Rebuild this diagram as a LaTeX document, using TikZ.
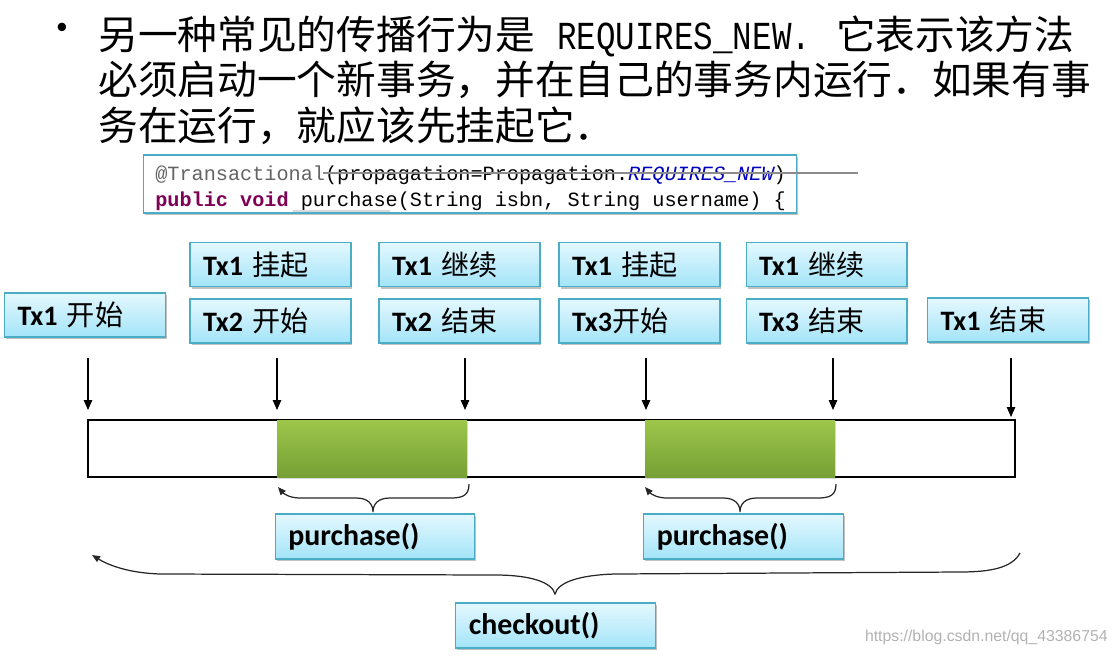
\documentclass[tikz,border=0pt]{standalone}
\usepackage{fontspec}
\setmainfont{Carlito}
\newfontfamily\cjk{Noto Sans CJK SC}
\newfontfamily\codefont{Liberation Mono}
\newfontfamily\narrowmono[FakeStretch=0.82]{Liberation Mono}
\newfontfamily\markfont{Liberation Sans}
\usepackage{tikz}
\usetikzlibrary{arrows.meta, shadows, positioning}

\definecolor{boxedge}{HTML}{4BACC6}
\definecolor{boxtop}{HTML}{E4F8FE}
\definecolor{boxbot}{HTML}{A3E4F8}
\definecolor{runtop}{HTML}{9DC64B}
\definecolor{runbot}{HTML}{76A035}
\definecolor{codegray}{HTML}{646464}
\definecolor{codeblue}{HTML}{0000C0}
\definecolor{codepurple}{HTML}{7F0055}

\newcommand{\zh}[1]{{\cjk #1}}

\begin{document}
\begin{tikzpicture}[x=0.02cm, y=-0.02cm,
    para/.style={font=\cjk\fontsize{22.6pt}{27pt}\selectfont, inner sep=0pt},
    code/.style={font=\codefont\fontsize{11.5pt}{13pt}\selectfont, inner sep=0pt},
    boxshadow/.style={drop shadow={shadow xshift=0.03cm, shadow yshift=-0.04cm,
        opacity=0.35, fill=black!70}},
    txbox/.style={draw=boxedge, line width=0.6pt, top color=boxtop,
        bottom color=boxbot, minimum width=3.22cm, minimum height=0.88cm,
        text width=2.7cm, align=left, inner xsep=0.26cm, inner ysep=0pt,
        font=\fontsize{16pt}{18pt}\selectfont, boxshadow},
    callbox/.style={txbox, minimum width=3.97cm, minimum height=0.9cm,
        text width=3.47cm, font=\bfseries\fontsize{17pt}{19pt}\selectfont},
    runbox/.style={top color=runtop, bottom color=runbot, minimum width=3.8cm,
        minimum height=1.14cm, inner sep=0pt,
        drop shadow={shadow xshift=0.02cm, shadow yshift=-0.03cm,
        opacity=0.25, fill=black!60}},
    tick/.style={line width=0.6pt, -{Triangle[length=0.2cm, width=0.17cm]}},
    brace/.style={line width=0.7pt, black!85,
        -{Triangle[length=0.16cm, width=0.13cm]}}]
  \useasboundingbox (0,0) rectangle (1118,656);

  % the paragraph
  \node[para] (dot) at (62,33) {•};
  \node[para, anchor=base west] (p1) at (98,49)
    {另一种常见的传播行为是\hspace{0.44cm}{\narrowmono REQUIRES\_NEW.}\hspace{0.5cm}它表示该方法};
  \node[para, anchor=base west] (p2) at (98,94)
    {必须启动一个新事务，并在自己的事务内运行．如果有事};
  \node[para, anchor=base west] (p3) at (98,140)
    {务在运行，就应该先挂起它．};

  % the annotated method
  \node[draw=boxedge, line width=0.6pt, fill=white, minimum width=13.08cm,
    minimum height=1.16cm, boxshadow] (codebox) at (470,184) {};
  \node[code, anchor=base west] (ann) at (155,180)
    {\textcolor{codegray}{@Transactional}(propagation=Propagation.\textcolor{codeblue}{\itshape REQUIRES\_NEW})};
  \node[code, anchor=base west] (sig) at (155,206)
    {\textcolor{codepurple}{\bfseries public void} purchase(String isbn, String username) \{};
  \coordinate (stray1) at (323,173);
  \coordinate (stray2) at (858,173);
  \draw[line width=0.8pt, black!45] (stray1) -- (stray2);
  \coordinate (under1) at (293,211);
  \coordinate (under2) at (390,211);
  \draw[line width=0.8pt, black!15] (under1) -- (under2);

  % transaction events
  \node[txbox] (t1begin) at (85,315) {\textbf{Tx1} \zh{开始}};
  \node[txbox] (t1susA) at (270.5,264.5) {\textbf{Tx1} \zh{挂起}};
  \node[txbox] (t2begin) at (270.5,321) {\textbf{Tx2} \zh{开始}};
  \node[txbox] (t1resA) at (459.5,264.5) {\textbf{Tx1} \zh{继续}};
  \node[txbox] (t2end) at (459.5,321) {\textbf{Tx2} \zh{结束}};
  \node[txbox] (t1susB) at (639.5,264.5) {\textbf{Tx1} \zh{挂起}};
  \node[txbox] (t3begin) at (639.5,321) {\textbf{Tx3}\zh{开始}};
  \node[txbox] (t1resB) at (826.5,264.5) {\textbf{Tx1} \zh{继续}};
  \node[txbox] (t3end) at (826.5,321) {\textbf{Tx3} \zh{结束}};
  \node[txbox] (t1end) at (1008,320) {\textbf{Tx1} \zh{结束}};

  % the time line
  \node[draw, line width=0.8pt, fill=white, minimum width=18.54cm,
    minimum height=1.14cm, inner sep=0pt] (line) at (551.5,448.5) {};
  \node[runbox] (run2) at (372,448.5) {};
  \node[runbox] (run3) at (740,448.5) {};
  \foreach \i/\x/\e in {1/88/410, 2/277/410, 3/465/410,
                        4/646/410, 5/833/410, 6/1011/417} {
    \coordinate (from\i) at (\x,358);
    \coordinate (to\i) at (\x,\e);
    \draw[tick] (from\i) -- (to\i);
  }

  % the two purchase() calls
  \foreach \o in {0, 367} {
    \draw[brace] ({\o+469},484) .. controls ({\o+469},496) and ({\o+462},498)
      .. ({\o+450},498) -- ({\o+390},498) .. controls ({\o+378},498)
      and ({\o+373},504) .. ({\o+373},512) .. controls ({\o+373},504)
      and ({\o+368},498) .. ({\o+356},498) -- ({\o+300},498)
      .. controls ({\o+290},498) and ({\o+284},494) .. ({\o+278},487);
  }
  \node[callbox] (call2) at (375,536.5) {purchase()};
  \node[callbox] (call3) at (743.5,536.5) {purchase()};

  % the checkout() call
  \draw[brace] (1020,553) .. controls (1012,568) and (990,572) .. (960,572)
    -- (615,574) .. controls (580,575) and (558,582) .. (555,594)
    .. controls (552,582) and (530,575) .. (495,575) -- (160,574)
    .. controls (130,573) and (110,566) .. (92,555);
  \node[callbox] (checkout) at (555.5,625.5) {checkout()};

  \node[font=\markfont\fontsize{9pt}{10pt}\selectfont, text=black!30,
    anchor=east, inner sep=0pt] (mark) at (1108,637)
    {https://blog.csdn.net/qq\_43386754};
\end{tikzpicture}
\end{document}
